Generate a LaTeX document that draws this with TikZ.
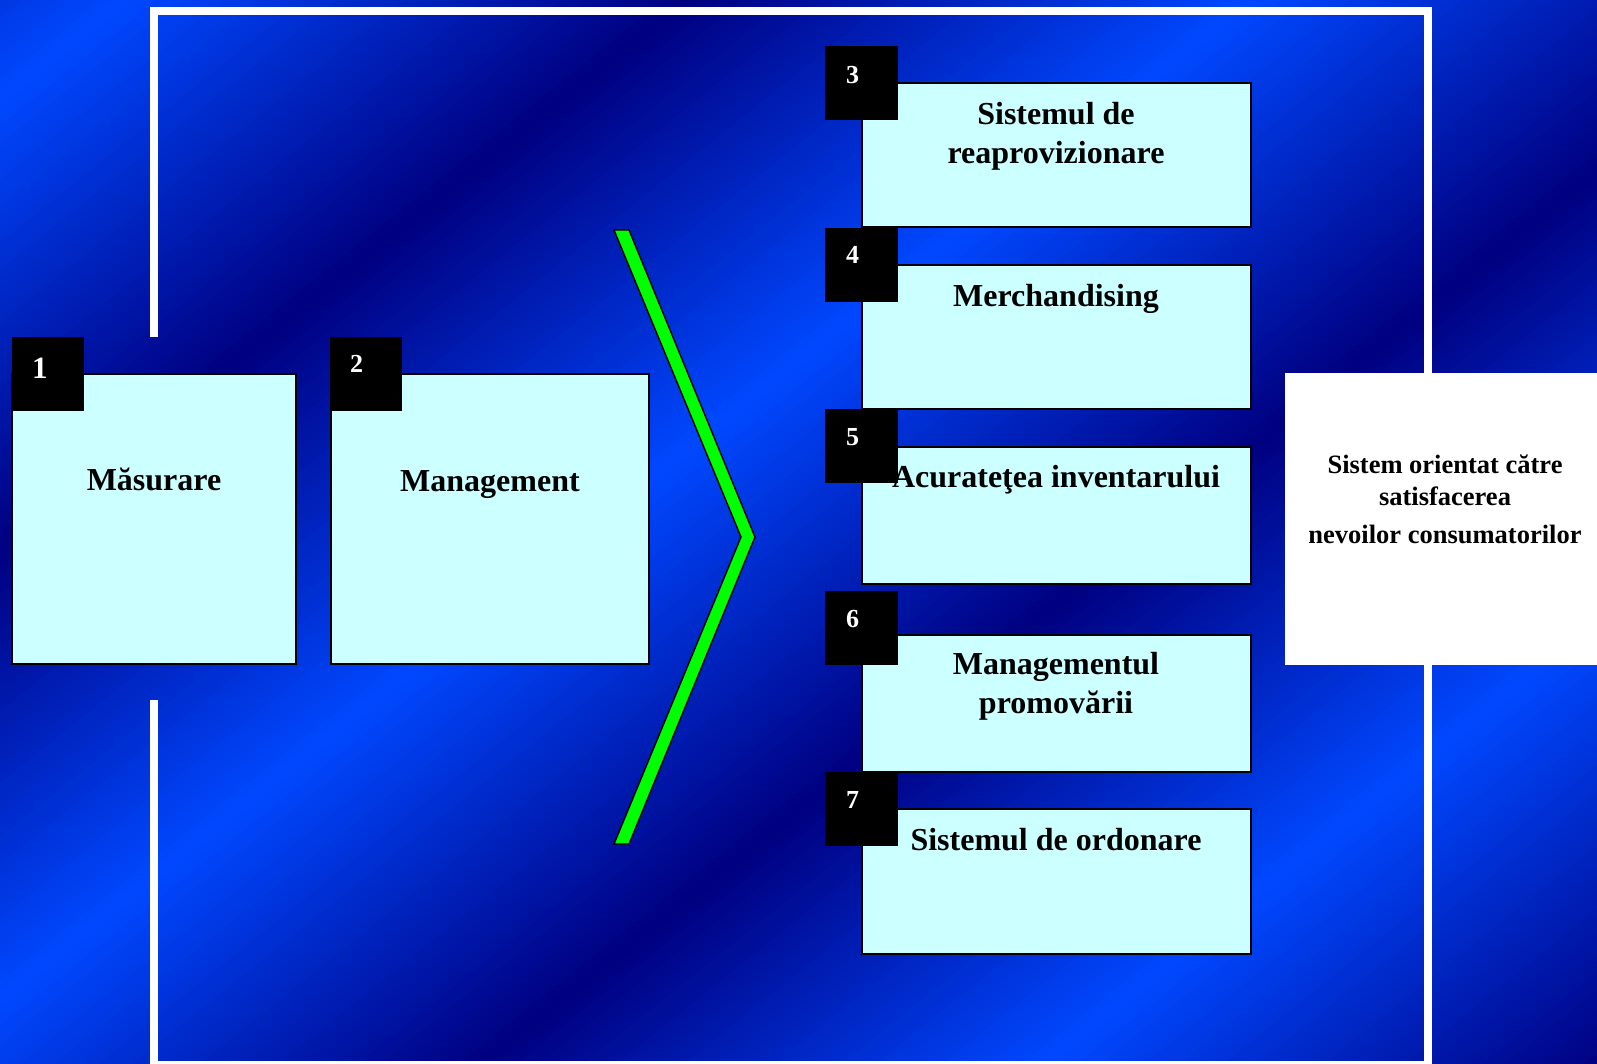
\documentclass[tikz,border=0pt]{standalone}
\usepackage{fontspec}
\setmainfont{Liberation Serif}
\definecolor{bgbright}{RGB}{0,72,255}
\definecolor{bgdark}{RGB}{0,0,128}
\definecolor{boxcyan}{RGB}{204,255,255}
\definecolor{chevgreen}{RGB}{0,255,0}
\begin{document}
\begin{tikzpicture}[x=1pt,y=-1pt,
  box/.style={draw=black,line width=2pt,fill=boxcyan,inner sep=0pt,outer sep=0pt,anchor=north west},
  numbox/.style={fill=black,inner sep=0pt,outer sep=0pt,anchor=north west,minimum width=73pt,minimum height=74pt},
  numtxt/.style={text=white,font=\fontsize{26}{30}\selectfont\bfseries,anchor=base west,inner sep=0pt},
  lbl/.style={text=black,font=\fontsize{32}{38.5}\selectfont\bfseries,anchor=base,inner sep=0pt,align=center},
  framel/.style={draw=white,line width=8pt}]
\useasboundingbox (0,0) rectangle (1597,1063);
\begin{scope}
\clip (0,0) rectangle (1597,1063);
% diagonal banded gradient background
\foreach \i in {-2,...,262}{
  \pgfmathsetmacro{\ca}{\i*9}
  \pgfmathsetmacro{\cb}{\ca+9.8}
  \pgfmathsetmacro{\cm}{\ca+4.5}
  \pgfmathsetmacro{\p}{100*(1-abs(mod(\cm-100+9000,900)-450)/450)}
  \fill[bgdark!\p!bgbright] (-10,\ca+8) -- (1610,\ca-1288) -- (1610,\cb-1288) -- (-10,\cb+8) -- cycle;
}
% white frame
\coordinate (fa) at (154,337);
\coordinate (fb) at (154,11);
\coordinate (fc) at (1428,11);
\coordinate (fd) at (1428,380);
\coordinate (fe) at (1428,660);
\coordinate (ff) at (1428,1065);
\coordinate (fg) at (154,1065);
\coordinate (fh) at (154,700);
\draw[framel] (fa) -- (fb) -- (fc) -- (fd);
\draw[framel] (fe) -- (ff) -- (fg) -- (fh);
% goal box
\node[fill=white,inner sep=0pt,outer sep=0pt,anchor=north west,minimum width=330pt,minimum height=292pt] (goal) at (1285,373) {};
\end{scope}
\node[text=black,font=\fontsize{26.5}{32}\selectfont\bfseries,anchor=base,inner sep=0pt,align=center] (goaltxt) at (1445,543) {Sistem orientat către\\satisfacerea\\[6pt]nevoilor consumatorilor};
% chevron
\draw[fill=chevgreen,draw=black,line width=1.4pt,line join=miter] (614,230) -- (629,230) -- (755,537) -- (629,844) -- (614,844) -- (741,537) -- cycle;
% boxes
\node[box,minimum width=284pt,minimum height=290pt] (b1) at (12,374) {};
\node[box,minimum width=318pt,minimum height=290pt] (b2) at (331,374) {};
\node[box,minimum width=389pt,minimum height=144pt] (b3) at (862,83) {};
\node[box,minimum width=389pt,minimum height=144pt] (b4) at (862,265) {};
\node[box,minimum width=389pt,minimum height=137pt] (b5) at (862,447) {};
\node[box,minimum width=389pt,minimum height=137pt] (b6) at (862,635) {};
\node[box,minimum width=389pt,minimum height=145pt] (b7) at (862,809) {};
% number squares
\node[numbox,minimum width=72pt] (n1) at (12,337) {};
\node[numbox,minimum width=72pt] (n2) at (330,337) {};
\node[numbox] (n3) at (825,46) {};
\node[numbox] (n4) at (825,228) {};
\node[numbox] (n5) at (825,409) {};
\node[numbox] (n6) at (825,591) {};
\node[numbox] (n7) at (825,772) {};
% labels
\node[lbl] (l1) at (154,490) {Măsurare};
\node[lbl] (l2) at (490,491) {Management};
\node[lbl] (l3) at (1056,163) {Sistemul de\\reaprovizionare};
\node[lbl] (l4) at (1056,306) {Merchandising};
\node[lbl] (l5) at (1056,487) {Acurateţea inventarului};
\node[lbl] (l6) at (1056,713) {Managementul\\promovării};
\node[lbl] (l7) at (1056,850) {Sistemul de ordonare};
% numbers
\node[numtxt,font=\fontsize{31}{34}\selectfont\bfseries] (t1) at (32,378) {1};
\node[numtxt] (t2) at (350,372) {2};
\node[numtxt] (t3) at (846,83) {3};
\node[numtxt] (t4) at (846,263) {4};
\node[numtxt] (t5) at (846,445) {5};
\node[numtxt] (t6) at (846,627) {6};
\node[numtxt] (t7) at (846,808) {7};
\end{tikzpicture}
\end{document}
